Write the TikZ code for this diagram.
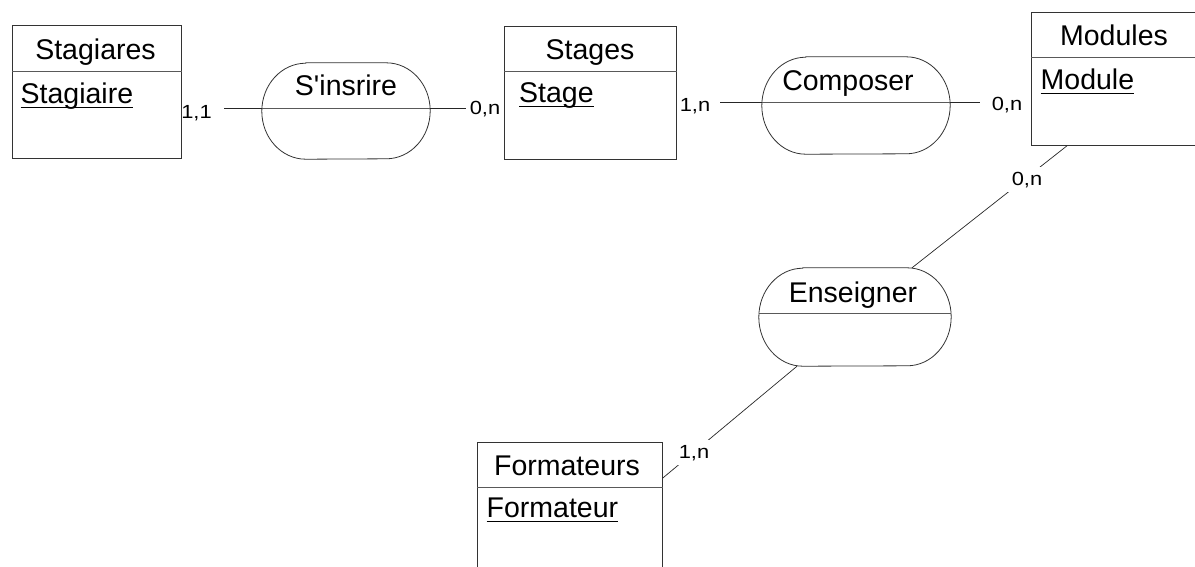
\documentclass[tikz,border=0pt]{standalone}
\usepackage{fontspec}
\setmainfont{Liberation Sans}[Ligatures=TeXOff]
\newfontfamily\cardfont{Liberation Sans}[FakeStretch=1.15]
\usetikzlibrary{calc}

% Entities: boxes with a title band; associations: capsules split in two.
\tikzset{
  x=1pt, y=-1pt,
  entbox/.style={draw=black!80, line width=0.8pt, inner sep=0pt, anchor=north west, rectangle},
  relbox/.style={inner sep=0pt, rectangle},
  outline/.style={draw=black!80, line width=0.8pt},
  divline/.style={draw=black!65, line width=0.8pt},
  conn/.style={draw=black!85, line width=0.7pt},
  ulrule/.style={draw=black, line width=1.6pt},
  title/.style={anchor=base, inner sep=0pt, font=\fontsize{28.5}{32}\selectfont},
  attr/.style={anchor=base west, inner sep=0pt, font=\fontsize{28.5}{32}\selectfont},
  card/.style={anchor=base, inner sep=0pt, font=\cardfont\fontsize{19}{22}\selectfont},
  cardcut/.style={card, inner sep=5pt, fill=white},
}

% capsule outline of an association node: #1 node, #2 end x-radius, #3 half height
\newcommand\capsule[3]{%
  \draw[outline] ($(#1.north west)+(#2,0)$) -- ($(#1.north east)+(-#2,0)$)
    arc[start angle=90, end angle=-90, x radius=#2pt, y radius=#3pt]
    -- ($(#1.south west)+(#2,0)$)
    arc[start angle=270, end angle=90, x radius=#2pt, y radius=#3pt] -- cycle;}
% thick underline below an identifier
\newcommand\keyline[1]{%
  \draw[ulrule] ([yshift=-4.5pt]#1.base west) -- ([yshift=-4.5pt]#1.base east);}

\begin{document}
\begin{tikzpicture}
\useasboundingbox (0,0) rectangle (1195,566);
\clip (0,0) rectangle (1195,566);

% ---------- entities ----------
\node[entbox, minimum width=169pt, minimum height=133pt] (stagiares) at (12,25) {};
\draw[divline] ($(stagiares.north west)+(0,46)$) -- ($(stagiares.north east)+(0,46)$);
\node[title] (stagiaresT) at (95.5,59) {Stagiares};
\node[attr] (stagiaire) at (20.5,103) {Stagiaire};
\keyline{stagiaire}

\node[entbox, minimum width=172pt, minimum height=133pt] (stages) at (504,26) {};
\draw[divline] ($(stages.north west)+(0,45)$) -- ($(stages.north east)+(0,45)$);
\node[title] (stagesT) at (590,59) {Stages};
\node[attr] (stage) at (519,102) {Stage};
\keyline{stage}

\node[entbox, minimum width=170pt, minimum height=133pt] (modules) at (1031,12) {};
\draw[divline] ($(modules.north west)+(0,45)$) -- ($(modules.north east)+(0,45)$);
\node[title] (modulesT) at (1114,45) {Modules};
\node[attr] (module) at (1040.5,89) {Module};
\keyline{module}

\node[entbox, minimum width=185pt, minimum height=200pt] (formateurs) at (477,442) {};
\draw[divline] ($(formateurs.north west)+(0,45)$) -- ($(formateurs.north east)+(0,45)$);
\node[title] (formateursT) at (567,475) {Formateurs};
\node[attr] (formateur) at (486.5,517) {Formateur};
\keyline{formateur}

% ---------- associations ----------
\node[relbox, minimum width=168pt, minimum height=96pt] (sins) at (346,111) {};
\capsule{sins}{44}{48}
\coordinate (sinsL) at ($(sins.west)+(0,-3)$);
\coordinate (sinsR) at ($(sins.east)+(0,-3)$);
\draw[divline] (sinsL) -- (sinsR);
\node[title] (sinsT) at (346,95) {S'insrire};

\node[relbox, minimum width=188pt, minimum height=97pt] (comp) at (856,105.5) {};
\capsule{comp}{44}{48.5}
\coordinate (compL) at ($(comp.west)+(0,-3.5)$);
\coordinate (compR) at ($(comp.east)+(0,-3.5)$);
\draw[divline] (compL) -- (compR);
\node[title] (compT) at (848,90) {Composer};

\node[relbox, minimum width=192pt, minimum height=98pt] (ens) at (855,317) {};
\capsule{ens}{44}{49}
\coordinate (ensL) at ($(ens.west)+(0,-4)$);
\coordinate (ensR) at ($(ens.east)+(0,-4)$);
\draw[divline] (ensL) -- (ensR);
\node[title] (ensT) at (853,302) {Enseigner};

% ---------- links ----------
\coordinate (a1) at (224,108);
\coordinate (a2) at (466,108);
\coordinate (b1) at (720,102);
\coordinate (b2) at (980,102);
\coordinate (modB) at ($(modules.south west)+(36,0)$);
\coordinate (ensTop) at ($(ens.north)+(57,0)$);
\coordinate (ensBot) at ($(ens.south)+(-58,0)$);
\coordinate (forR) at ($(formateurs.north east)+(0,36)$);

\draw[conn] (a1) -- (sinsL);
\draw[conn] (sinsR) -- (a2);
\draw[conn] (b1) -- (compL);
\draw[conn] (compR) -- (b2);
\draw[conn] (modB) -- (ensTop);
\draw[conn] (ensBot) -- (forR);

% ---------- cardinalities ----------
\node[card] (k1) at (196.5,118) {1,1};
\node[card] (k2) at (485,114) {0,n};
\node[card] (k3) at (695,111) {1,n};
\node[card] (k4) at (1007,110) {0,n};
\node[cardcut] (k5) at (1027,185) {0,n};
\node[cardcut] (k6) at (694,458) {1,n};
\end{tikzpicture}
\end{document}
